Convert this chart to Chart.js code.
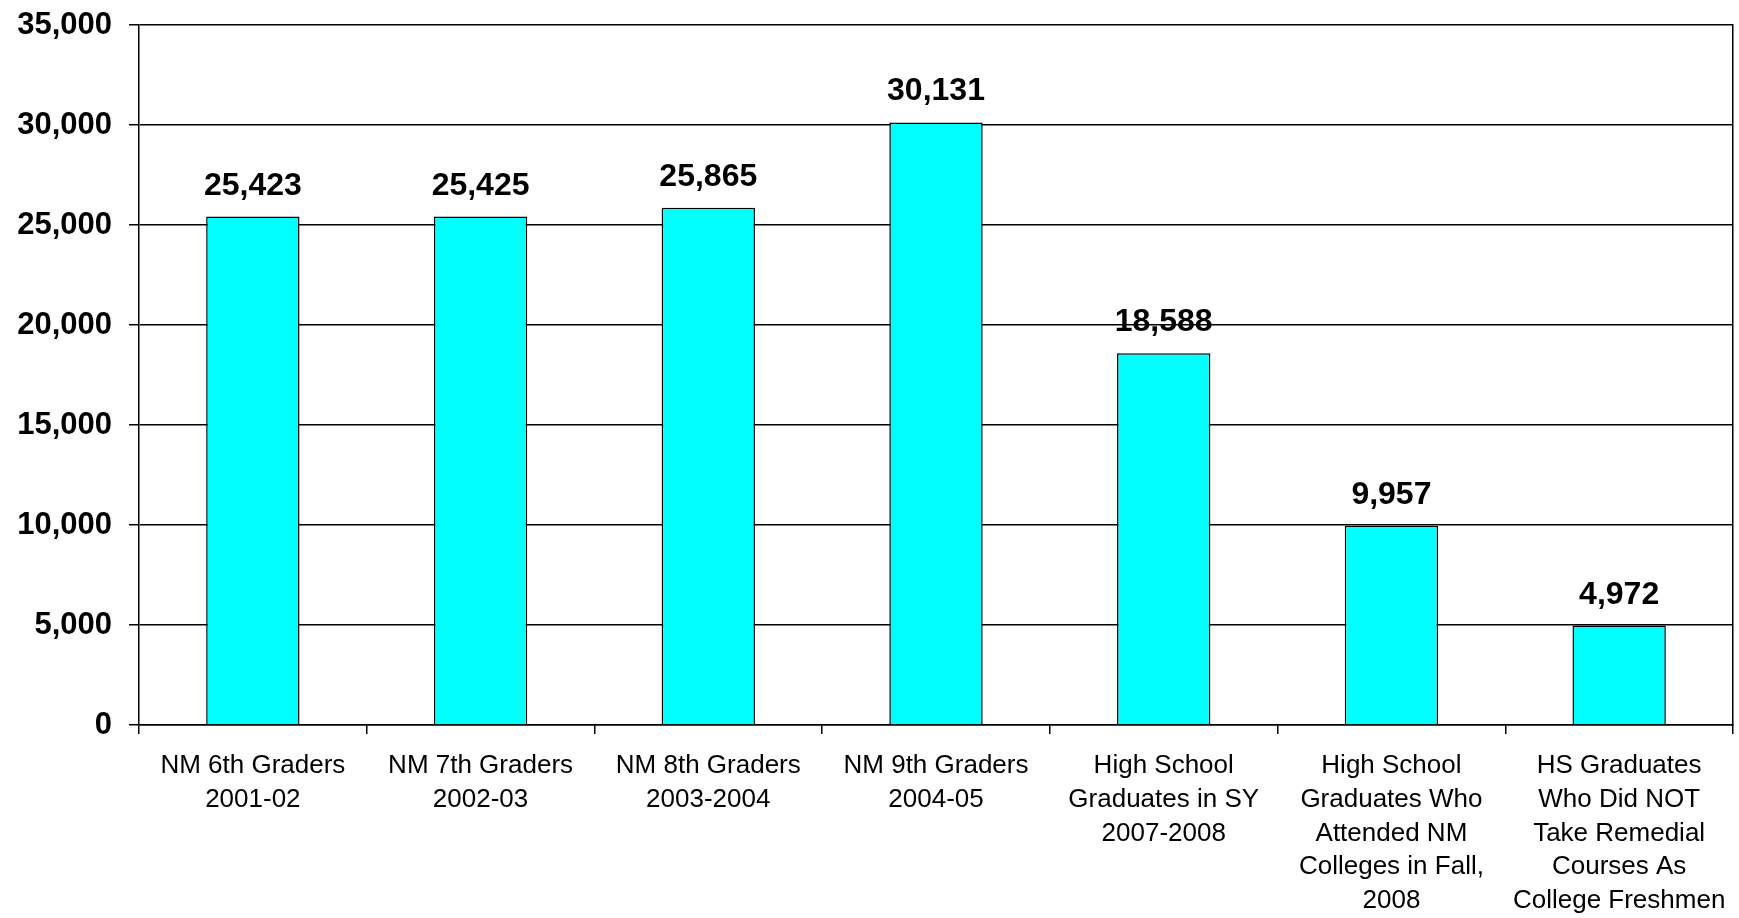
<!DOCTYPE html>
<html>
<head>
<meta charset="utf-8">
<script src="https://cdn.jsdelivr.net/npm/chart.js@4.4.1/dist/chart.umd.min.js"></script>
<style>
  html, body { margin: 0; padding: 0; background: #fff; }
  #wrap { width: 1739px; height: 918px; }
</style>
</head>
<body>
<div id="wrap"><canvas id="chart"></canvas></div>
<script>
const categories = [
  ['NM 6th Graders', '2001-02'],
  ['NM 7th Graders', '2002-03'],
  ['NM 8th Graders', '2003-2004'],
  ['NM 9th Graders', '2004-05'],
  ['High School', 'Graduates in SY', '2007-2008'],
  ['High School', 'Graduates Who', 'Attended NM', 'Colleges in Fall,', '2008'],
  ['HS Graduates', 'Who Did NOT', 'Take Remedial', 'Courses As', 'College Freshmen'],
];
const students = [25423, 25425, 25865, 30131, 18588, 9957, 4972];
const yTicks = [0, 5000, 10000, 15000, 20000, 25000, 30000, 35000];

const fmt = (v) => v.toLocaleString('en-US');

// value labels over each bar
const barLabels = {
  id: 'barLabels',
  afterDatasetsDraw(chart) {
    const { ctx } = chart;
    const meta = chart.getDatasetMeta(0);
    ctx.save();
    ctx.font = 'bold 32px "Liberation Sans", Arial, sans-serif';
    ctx.fillStyle = '#000';
    ctx.textAlign = 'center';
    ctx.textBaseline = 'alphabetic';
    meta.data.forEach((bar, i) => {
      ctx.fillText(fmt(students[i]), bar.x, bar.y - 22);
    });
    ctx.restore();
  },
};

new Chart(document.getElementById('chart'), {
  type: 'bar',
  data: {
    labels: categories,
    datasets: [{
      data: students,
      backgroundColor: '#00FFFF',
      borderColor: '#000',
      borderWidth: 1.5,
      barPercentage: 0.82,
      categoryPercentage: 0.5,
    }],
  },
  options: {
    responsive: true,
    maintainAspectRatio: false,
    animation: false,
    layout: { padding: { top: 25, right: 6, left: 0, bottom: 0 } },
    plugins: { legend: { display: false }, tooltip: { enabled: false } },
    scales: {
      x: {
        grid: { display: true, drawOnChartArea: false, tickLength: 9, color: '#000', lineWidth: 1.5, offset: true },
        border: { display: true, color: '#000', width: 1.5 },
        ticks: {
          color: '#000',
          maxRotation: 0,
          autoSkip: false,
          padding: 15,
          font: { family: '"Liberation Sans", Arial, sans-serif', size: 26, lineHeight: 1.3 },
        },
        afterFit: (scale) => { scale.height = 193; scale.paddingLeft = 0; scale.paddingRight = 0; },
      },
      y: {
        min: 0,
        max: 35000,
        afterBuildTicks: (scale) => { scale.ticks = yTicks.map((v) => ({ value: v })); },
        grid: { color: '#000', lineWidth: 1.5, tickLength: 10 },
        border: { display: true, color: '#000', width: 1.5 },
        ticks: {
          color: '#000',
          padding: 17,
          callback: (v) => fmt(v),
          font: { family: '"Liberation Sans", Arial, sans-serif', size: 31, weight: 'bold' },
        },
        afterFit: (scale) => { scale.width = 139; scale.paddingTop = 0; scale.paddingBottom = 0; },
      },
      y2: {
        position: 'right',
        min: 0,
        max: 35000,
        grid: { display: false, drawTicks: false },
        border: { display: true, color: '#000', width: 1.5 },
        ticks: { display: false },
        afterFit: (scale) => { scale.width = 0; },
      },
    },
  },
  plugins: [barLabels],
});
</script>
</body>
</html>
